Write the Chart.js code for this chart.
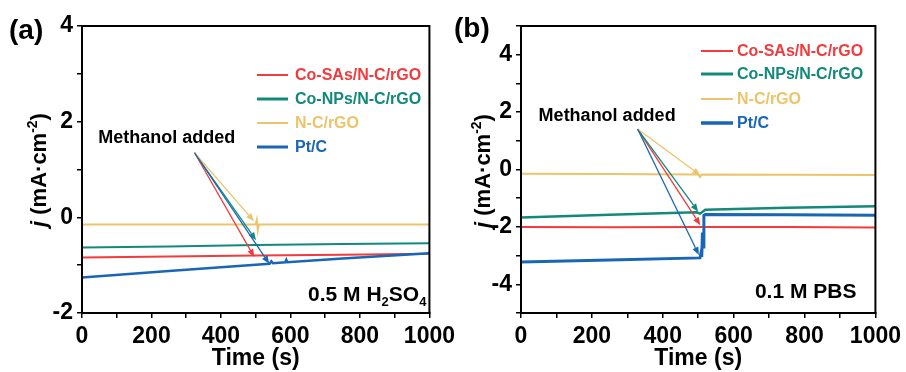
<!DOCTYPE html>
<html>
<head>
<meta charset="utf-8">
<script src="https://cdn.jsdelivr.net/npm/chart.js@4"></script>
<style>
    html, body { margin: 0; padding: 0; background: #fff; }
    body { width: 906px; height: 372px; position: relative; overflow: hidden; }
    canvas { position: absolute; top: 0; }
    #chartA { left: 0; }
    #chartB { left: 450px; }
</style>
</head>
<body>
<canvas id="chartA" width="460" height="372"></canvas>
<canvas id="chartB" width="456" height="372"></canvas>
<script>
const FONT = "'Liberation Sans', Arial, sans-serif";

// Series (same order in both panels)
const seriesNames = ['Co-SAs/N-C/rGO', 'Co-NPs/N-C/rGO', 'N-C/rGO', 'Pt/C'];
const seriesColors = ['#f23b3d', '#13897b', '#ecc46c', '#1866b5'];

// Panel (a): 0.5 M H2SO4
const timeA_SAs = [0, 250, 500, 750, 1000];
const jA_SAs = [-0.84, -0.82, -0.80, -0.78, -0.76];
const timeA_NPs = [0, 250, 500, 750, 1000];
const jA_NPs = [-0.63, -0.61, -0.58, -0.56, -0.54];
const timeA_NC = [0, 250, 500, 503, 506, 509, 750, 1000];
const jA_NC = [-0.15, -0.15, -0.15, -0.06, -0.27, -0.15, -0.15, -0.15];
const timeA_Pt = [0, 250, 500, 540, 545, 550, 585, 588, 591, 750, 1000];
const jA_Pt = [-1.26, -1.12, -0.99, -0.97, -0.92, -0.96, -0.94, -0.89, -0.94, -0.86, -0.75];

// Panel (b): 0.1 M PBS
const timeB_SAs = [0, 250, 500, 750, 1000];
const jB_SAs = [-2.00, -2.01, -2.00, -2.00, -2.02];
const timeB_NPs = [0, 250, 495, 505, 520, 750, 1000];
const jB_NPs = [-1.67, -1.58, -1.49, -1.54, -1.40, -1.33, -1.28];
const timeB_NC = [0, 250, 500, 505, 510, 750, 1000];
const jB_NC = [-0.15, -0.16, -0.17, -0.26, -0.17, -0.18, -0.19];
const timeB_Pt = [0, 250, 505, 508, 510, 512, 514, 516, 520, 750, 1000];
const jB_Pt = [-3.22, -3.15, -3.08, -2.90, -3.05, -2.20, -2.70, -1.60, -1.57, -1.58, -1.59];

// "Methanol added" arrows: start point and tips (red, teal, yellow, blue)
const arrowStartA = [324, 1.35];
const arrowTipTimeA = [496, 501, 495, 539];
const arrowTipJA = [-0.83, -0.48, -0.08, -0.97];
const arrowStartB = [329, 1.41];
const arrowTipTimeB = [506, 500, 506, 502];
const arrowTipJB = [-1.94, -1.47, -0.20, -2.98];
const noteA = [244, 1.65];
const noteB = [243, 1.87];

function drawRich(ctx, parts, x, y, align) {
    let total = 0;
    parts.forEach(p => { ctx.font = p.font; total += ctx.measureText(p.text).width; });
    let cx = align === 'right' ? x - total : (align === 'center' ? x - total / 2 : x);
    ctx.textBaseline = 'alphabetic';
    ctx.textAlign = 'left';
    parts.forEach(p => {
        ctx.font = p.font;
        ctx.fillText(p.text, cx, y + (p.dy || 0));
        cx += ctx.measureText(p.text).width;
    });
}

function drawArrow(ctx, x0, y0, x1, y1, color) {
    const ang = Math.atan2(y1 - y0, x1 - x0);
    const head = 8, half = 3.2;
    const c = Math.cos(ang), s = Math.sin(ang);
    ctx.strokeStyle = color;
    ctx.fillStyle = color;
    ctx.lineWidth = 1.3;
    ctx.beginPath();
    ctx.moveTo(x0, y0);
    ctx.lineTo(x1 - head * c, y1 - head * s);
    ctx.stroke();
    ctx.beginPath();
    ctx.moveTo(x1, y1);
    ctx.lineTo(x1 - head * c + half * s, y1 - head * s - half * c);
    ctx.lineTo(x1 - head * c - half * s, y1 - head * s + half * c);
    ctx.closePath();
    ctx.fill();
}

function makeDecor(d) {
    return {
        id: 'panelDecor',
        afterDraw(chart) {
            const ctx = chart.ctx;
            const area = chart.chartArea;
            const xs = chart.scales.x, ys = chart.scales.y;
            ctx.save();

            // frame
            ctx.strokeStyle = '#000';
            ctx.lineWidth = 2;
            ctx.strokeRect(area.left, area.top, area.right - area.left, area.bottom - area.top);

            // arrows
            const sx = xs.getPixelForValue(d.arrowStart[0]);
            const sy = ys.getPixelForValue(d.arrowStart[1]);
            d.tipTime.forEach((t, i) => {
                drawArrow(ctx, sx, sy, xs.getPixelForValue(t), ys.getPixelForValue(d.tipJ[i]), seriesColors[i]);
            });

            // note text
            ctx.fillStyle = '#000';
            ctx.font = 'bold 18px ' + FONT;
            ctx.textAlign = 'center';
            ctx.textBaseline = 'middle';
            ctx.fillText('Methanol added', xs.getPixelForValue(d.note[0]), ys.getPixelForValue(d.note[1]));

            // electrolyte
            drawRich(ctx, d.electrolyte, area.right - d.elecRight, area.bottom - d.elecBottom, 'right');

            // legend
            seriesNames.forEach((name, i) => {
                const y = d.legendRows[i];
                ctx.strokeStyle = seriesColors[i];
                ctx.lineWidth = d.legendWidths[i];
                ctx.beginPath();
                ctx.moveTo(area.left + d.legendX[0], y);
                ctx.lineTo(area.left + d.legendX[1], y);
                ctx.stroke();
                ctx.fillStyle = seriesColors[i];
                ctx.font = 'bold 16px ' + FONT;
                ctx.textAlign = 'left';
                ctx.textBaseline = 'middle';
                ctx.fillText(name, area.left + d.legendX[2], y + 1);
            });

            // panel letter
            ctx.fillStyle = '#000';
            ctx.font = 'bold 28px ' + FONT;
            ctx.textAlign = 'left';
            ctx.textBaseline = 'middle';
            ctx.fillText(d.letter, d.letterPos[0], d.letterPos[1]);

            // y title
            ctx.save();
            ctx.translate(d.yTitle[0], d.yTitle[1]);
            ctx.rotate(-Math.PI / 2);
            drawRich(ctx, [
                { text: 'j', font: 'italic bold 22px ' + FONT },
                { text: ' (mA·cm', font: 'bold 22px ' + FONT },
                { text: '-2', font: 'bold 14px ' + FONT, dy: -9 },
                { text: ')', font: 'bold 22px ' + FONT }
            ], 0, 0, 'center');
            ctx.restore();

            ctx.restore();
        }
    };
}

function buildChart(canvasId, p) {
    const datasets = p.series.map((s, i) => ({
        label: seriesNames[i],
        data: s[0].map((t, k) => ({ x: t, y: s[1][k] })),
        borderColor: seriesColors[i],
        borderWidth: p.widths[i],
        pointRadius: 0,
        tension: 0,
        fill: false,
        order: 3 - i
    }));
    const tickFont = { family: FONT, size: 23, weight: 'bold' };
    return new Chart(document.getElementById(canvasId), {
        type: 'line',
        data: { datasets },
        options: {
            responsive: false,
            animation: false,
            events: [],
            layout: { padding: { left: 0, right: p.padRight, top: 26, bottom: 0 } },
            plugins: { legend: { display: false }, tooltip: { enabled: false } },
            scales: {
                x: {
                    type: 'linear', min: 0, max: 1000,
                    ticks: {
                        stepSize: 100, autoSkip: false, maxRotation: 0, padding: 5,
                        color: '#000', font: tickFont,
                        callback: v => (v % 200 === 0 ? String(v) : '')
                    },
                    grid: { drawOnChartArea: false, tickLength: 5, color: '#000', lineWidth: 1.5 },
                    border: { display: true, color: '#000', width: 2 },
                    title: {
                        display: true, text: 'Time (s)', color: '#000',
                        font: { family: FONT, size: 23, weight: 'bold' },
                        padding: { top: 0, bottom: 0 }
                    },
                    afterFit: s => { s.height = 59; }
                },
                y: {
                    type: 'linear', min: p.yMin, max: p.yMax,
                    ticks: {
                        stepSize: 1, autoSkip: false, padding: 4,
                        color: '#000', font: tickFont,
                        callback: v => (v % 2 === 0 ? String(v) : '')
                    },
                    grid: { drawOnChartArea: false, tickLength: 5, color: '#000', lineWidth: 1.5 },
                    border: { display: true, color: '#000', width: 2 },
                    afterFit: s => { s.width = p.yWidth; }
                }
            }
        },
        plugins: [makeDecor(p.decor)]
    });
}

buildChart('chartA', {
    series: [[timeA_SAs, jA_SAs], [timeA_NPs, jA_NPs], [timeA_NC, jA_NC], [timeA_Pt, jA_Pt]],
    widths: [2, 2, 2, 2.5],
    yMin: -2, yMax: 4, yWidth: 82, padRight: 26,
    decor: {
        arrowStart: arrowStartA, tipTime: arrowTipTimeA, tipJ: arrowTipJA, note: noteA,
        electrolyte: [
            { text: '0.5 M H', font: 'bold 21px ' + FONT },
            { text: '2', font: 'bold 13px ' + FONT, dy: 5 },
            { text: 'SO', font: 'bold 21px ' + FONT },
            { text: '4', font: 'bold 13px ' + FONT, dy: 5 }
        ],
        elecRight: 3, elecBottom: 12,
        legendRows: [75, 99, 123, 147], legendX: [175, 206, 213], legendWidths: [2, 3, 2, 3],
        letter: '(a)', letterPos: [9, 31],
        yTitle: [46, 170]
    }
});

buildChart('chartB', {
    series: [[timeB_SAs, jB_SAs], [timeB_NPs, jB_NPs], [timeB_NC, jB_NC], [timeB_Pt, jB_Pt]],
    widths: [2, 2.5, 2, 3],
    yMin: -5, yMax: 5, yWidth: 71, padRight: 30,
    decor: {
        arrowStart: arrowStartB, tipTime: arrowTipTimeB, tipJ: arrowTipJB, note: noteB,
        electrolyte: [{ text: '0.1 M PBS', font: 'bold 21px ' + FONT }],
        elecRight: 19, elecBottom: 15,
        legendRows: [51, 74, 99, 123], legendX: [180, 212, 216], legendWidths: [2, 3, 2, 3.5],
        letter: '(b)', letterPos: [4, 29],
        yTitle: [40, 171]
    }
});
</script>
</body>
</html>
